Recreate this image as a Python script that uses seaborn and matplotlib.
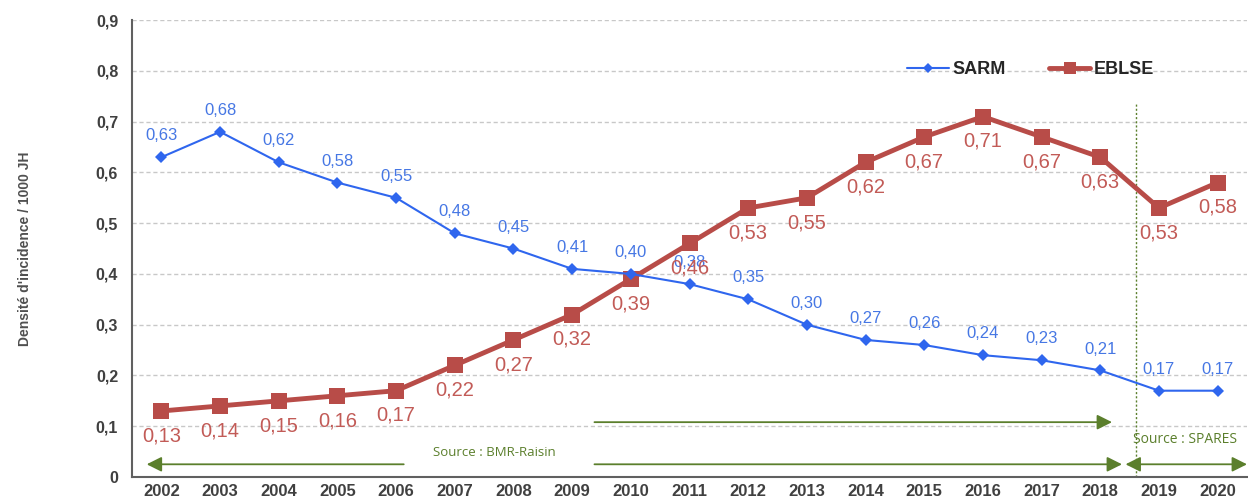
import pandas as pd
import numpy as np
import matplotlib.pyplot as plt
import seaborn as sns

# data
years = [2002, 2003, 2004, 2005, 2006, 2007, 2008, 2009, 2010, 2011,
         2012, 2013, 2014, 2015, 2016, 2017, 2018, 2019, 2020]
sarm = [0.63, 0.68, 0.62, 0.58, 0.55, 0.48, 0.45, 0.41, 0.40, 0.38,
        0.35, 0.30, 0.27, 0.26, 0.24, 0.23, 0.21, 0.17, 0.17]
eblse = [0.13, 0.14, 0.15, 0.16, 0.17, 0.22, 0.27, 0.32, 0.39, 0.46,
         0.53, 0.55, 0.62, 0.67, 0.71, 0.67, 0.63, 0.53, 0.58]
y_ticks = [0, 0.1, 0.2, 0.3, 0.4, 0.5, 0.6, 0.7, 0.8, 0.9]
y_labels = ['0', '0,1', '0,2', '0,3', '0,4', '0,5', '0,6', '0,7', '0,8', '0,9']

def fr(v):
    return f'{v:.2f}'.replace('.', ',')

sns.set_style('white')
plt.rcParams['font.family'] = ['Liberation Sans', 'DejaVu Sans']

BLUE = '#2f66ee'
BLUE_TXT = '#4677e4'
RED = '#b84c48'
RED_TXT = '#c25b57'
GREEN = '#5b7f2c'
TICK = '#404040'

df = pd.DataFrame({'x': np.arange(len(years)), 'SARM': sarm, 'EBLSE': eblse})

fig = plt.figure(figsize=(12.48, 5.04), dpi=100)
ax = fig.add_axes([0.1058, 0.0536, 0.8934, 0.9064])

for yv in y_ticks[1:]:
    ax.axhline(yv, color='#c8c8c8', lw=1, ls=(0, (3, 2)), zorder=0)

sns.lineplot(data=df, x='x', y='EBLSE', ax=ax, color=RED, lw=3.5, marker='s',
             markersize=11, markeredgewidth=0, label='EBLSE', zorder=3)
sns.lineplot(data=df, x='x', y='SARM', ax=ax, color=BLUE, lw=1.5, marker='D',
             markersize=6, markeredgewidth=0, label='SARM', zorder=4)

for i, v in enumerate(sarm):
    ax.annotate(fr(v), (i, v), xytext=(0, 10), textcoords='offset points',
                ha='center', va='bottom', color=BLUE_TXT, fontsize=12)
for i, v in enumerate(eblse):
    ax.annotate(fr(v), (i, v), xytext=(0, -11), textcoords='offset points',
                ha='center', va='top', color=RED_TXT, fontsize=14.5)

# source separators / arrows
ax.plot([16.6, 16.6], [0, 0.735], color=GREEN, lw=1, ls=(0, (1.5, 1.5)), zorder=1)
akw = dict(arrowstyle='-|>,head_length=0.9,head_width=0.45', color=GREEN, lw=1.3,
           shrinkA=0, shrinkB=0)
ax.annotate('', xy=(16.2, 0.108), xytext=(7.38, 0.108), arrowprops=akw)
ax.annotate('', xy=(-0.25, 0.025), xytext=(4.13, 0.025), arrowprops=akw)
ax.annotate('', xy=(16.37, 0.025), xytext=(7.38, 0.025), arrowprops=akw)
akw2 = dict(arrowstyle='<|-|>,head_length=0.9,head_width=0.45', color=GREEN, lw=1.3,
            shrinkA=0, shrinkB=0)
ax.annotate('', xy=(16.43, 0.025), xytext=(18.5, 0.025), arrowprops=akw2)
ax.text(5.68, 0.048, 'Source : BMR-Raisin', color=GREEN, fontsize=9.5,
        ha='center', va='center', family=['Open Sans', 'DejaVu Sans'])
ax.text(16.55, 0.073, 'Source : SPARES', color=GREEN, fontsize=10,
        ha='left', va='center', family=['Open Sans', 'DejaVu Sans'])

ax.set_xlim(-0.5, 18.5)
ax.set_ylim(0, 0.9)
ax.set_xticks(range(len(years)))
ax.set_xticklabels([str(y) for y in years], fontsize=12, fontweight='bold', color=TICK)
ax.set_xticks(np.arange(-0.5, 18.6, 1), minor=True)
ax.set_yticks(y_ticks)
ax.set_yticklabels(y_labels, fontsize=11.5, fontweight='bold', color=TICK)
ax.tick_params(axis='x', which='major', length=0, pad=5)
ax.tick_params(axis='x', which='minor', length=4, direction='inout', color='#606060')
ax.tick_params(axis='y', length=4, direction='inout', color='#606060', pad=8)
ax.set_xlabel('')
ax.set_ylabel("Densité d'incidence / 1000 JH", fontsize=10, fontweight='bold',
              color='#505050', labelpad=46)

for s in ['top', 'right']:
    ax.spines[s].set_visible(False)
for s in ['left', 'bottom']:
    ax.spines[s].set_color('#606060')
    ax.spines[s].set_linewidth(1.5)

handles, labels = ax.get_legend_handles_labels()
order = [labels.index('SARM'), labels.index('EBLSE')]
leg = ax.legend([handles[k] for k in order], [labels[k] for k in order],
                loc='center', bbox_to_anchor=(0.806, 0.891), ncol=2, frameon=False,
                prop={'weight': 'bold', 'size': 13}, handlelength=2.3,
                handletextpad=0.2, columnspacing=2.4)
for t in leg.get_texts():
    t.set_color('#262626')
leg.legend_handles[0].set_markersize(5)
leg.legend_handles[1].set_markersize(8)

fig.savefig('out.png', dpi=100)
